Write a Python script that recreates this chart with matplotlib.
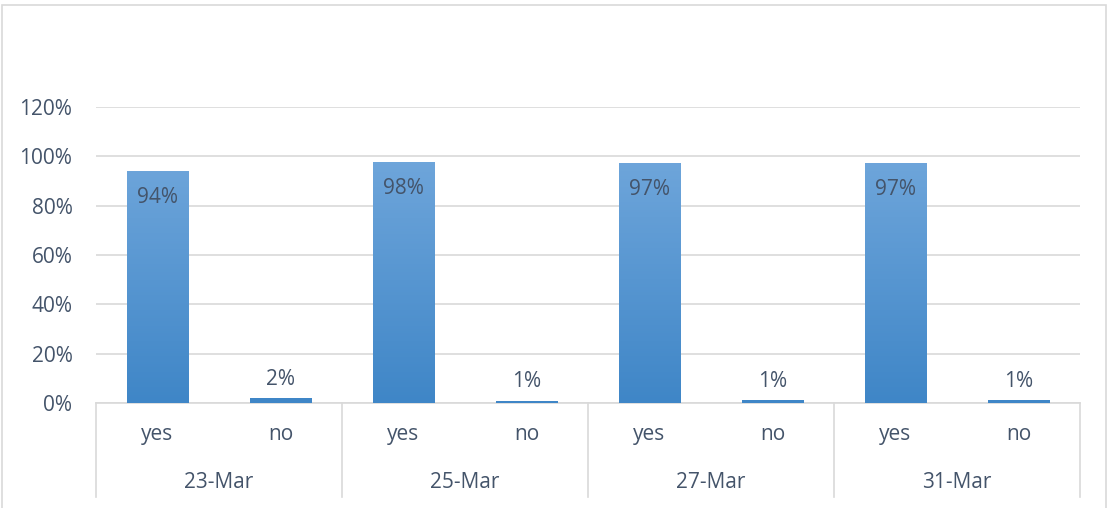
import numpy as np
import matplotlib
matplotlib.use("Agg")
import matplotlib.pyplot as plt
from matplotlib.colors import LinearSegmentedColormap
from matplotlib.patches import Rectangle

# ---------------- Data ----------------
dates = ["23-Mar", "25-Mar", "27-Mar", "31-Mar"]
answers = ["yes", "no"]
values = [0.94, 0.02, 0.977, 0.01, 0.973, 0.012, 0.973, 0.012]
yticks = [0.0, 0.2, 0.4, 0.6, 0.8, 1.0, 1.2]

TEXT = "#44546A"
GRID = "#D9D9D9"
FS = 15
plt.rcParams["font.family"] = ["Open Sans", "DejaVu Sans"]

fig = plt.figure(figsize=(11.09, 5.08), dpi=100)
ax = fig.add_axes([96 / 1109, 1 - 403 / 508, (1080 - 96) / 1109, (403 - 107) / 508])

n = len(values)
x = np.arange(n) + 0.5
bars = ax.bar(x, values, width=0.5, color="none", edgecolor="none", zorder=3)

# vertical gradient fill, light at top, darker at bottom
cmap = LinearSegmentedColormap.from_list("excel_blue", ["#3F86C7", "#6FA6DB"])
grad = np.linspace(0, 1, 256).reshape(-1, 1)
for b in bars:
    x0, y0 = b.get_x(), b.get_y()
    w, h = b.get_width(), b.get_height()
    im = ax.imshow(grad, cmap=cmap, origin="lower", aspect="auto",
                   extent=[x0, x0 + w, y0, y0 + 1.0], zorder=3)
    clip = Rectangle((x0, y0), w, h, transform=ax.transData)
    im.set_clip_path(clip)

# data labels: inside end for tall bars, outside end for small ones
for xi, v in zip(x, values):
    lbl = f"{round(v * 100):.0f}%"
    dy = -19 if v > 0.5 else 13.5
    ax.annotate(lbl, (xi, v), xytext=(0, dy), textcoords="offset points",
                ha="center", va="center", fontsize=FS, color=TEXT, zorder=4)

ax.set_xlim(0, n)
ax.set_ylim(0, 1.2)
ax.set_yticks(yticks)
ax.set_yticklabels([f"{t * 100:.0f}%" for t in yticks], fontsize=FS, color=TEXT)
ax.tick_params(axis="y", length=0, pad=17)
ax.set_xticks([])
ax.yaxis.grid(True, color=GRID, lw=1.2, zorder=0)
ax.set_axisbelow(True)
for s in ["top", "right", "left"]:
    ax.spines[s].set_visible(False)
ax.spines["bottom"].set_color(GRID)
ax.spines["bottom"].set_linewidth(1.2)

# two-level category axis
trans = ax.get_xaxis_transform()
for i, xi in enumerate(x):
    ax.text(xi, -0.108, answers[i % 2], transform=trans, ha="center", va="center",
            fontsize=FS, color=TEXT)
for j, d in enumerate(dates):
    ax.text(2 * j + 1, -0.267, d, transform=trans, ha="center", va="center",
            fontsize=FS, color=TEXT)
for k in range(len(dates) + 1):
    ax.plot([2 * k, 2 * k], [0, -0.318], transform=trans, color=GRID,
            lw=1.2, clip_on=False)

# chart border
fig.patches.append(Rectangle((2 / 1109, -0.01), 1104 / 1109, 1.0,
                             transform=fig.transFigure, fill=False,
                             edgecolor=GRID, lw=1.2))

fig.savefig("out.png", dpi=100)
